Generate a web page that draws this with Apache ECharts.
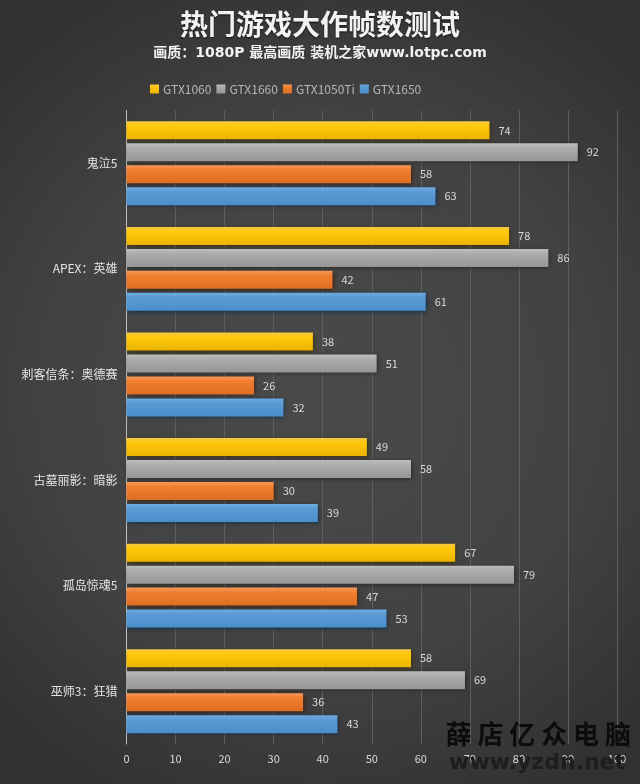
<!DOCTYPE html>
<html>
<head>
<meta charset="utf-8">
<style>html,body{margin:0;padding:0;background:#333}#main{width:640px;height:784px}</style>
<script src="https://cdn.jsdelivr.net/npm/echarts@6/dist/echarts.min.js"></script>
</head>
<body>
<div id="main"></div>
<script>
const games = ['鬼泣5', 'APEX：英雄', '刺客信条：奥德赛', '古墓丽影：暗影', '孤岛惊魂5', '巫师3：狂猎'];
const gtx1060 = [74, 78, 38, 49, 67, 58];
const gtx1660 = [92, 86, 51, 58, 79, 69];
const gtx1050ti = [58, 42, 26, 30, 47, 36];
const gtx1650 = [63, 61, 32, 39, 53, 43];

const font = '"Noto Sans CJK SC", "Noto Sans", sans-serif';

function barSeries(name, data, top, mid, bottom, shadow) {
  return {
    name: name,
    type: 'bar',
    data: data,
    barWidth: 18,
    barGap: '22%',
    itemStyle: {
      color: new echarts.graphic.LinearGradient(0, 0, 0, 1, [
        {offset: 0, color: top},
        {offset: 0.25, color: mid},
        {offset: 1, color: bottom}
      ]),
      shadowColor: shadow,
      shadowBlur: 5,
      shadowOffsetX: 1,
      shadowOffsetY: 1
    },
    label: {
      show: true,
      position: 'right',
      distance: 9,
      color: '#d9d9d9',
      fontSize: 11,
      fontFamily: font
    }
  };
}

let myChart = echarts.init(document.getElementById('main'));
myChart.setOption({
  animation: false,
  backgroundColor: new echarts.graphic.RadialGradient(0.5, 0.5, 0.72, [
    {offset: 0, color: '#4a4a4a'},
    {offset: 0.6, color: '#424242'},
    {offset: 1, color: '#313131'}
  ]),
  title: {
    text: '热门游戏大作帧数测试',
    subtext: '画质：1080P 最高画质 装机之家www.lotpc.com',
    left: 'center',
    top: 5,
    itemGap: 8,
    textStyle: {
      color: '#f2f2f2',
      fontSize: 28,
      fontWeight: 'bold',
      fontFamily: font,
      textShadowColor: '#111',
      textShadowBlur: 2,
      textShadowOffsetY: 1
    },
    subtextStyle: {
      color: '#f2f2f2',
      fontSize: 14,
      fontWeight: 'bold',
      fontFamily: '"DejaVu Sans", "Noto Sans CJK SC", sans-serif'
    }
  },
  legend: {
    top: 78,
    left: 145,
    itemWidth: 9,
    itemHeight: 9,
    itemGap: 5,
    icon: 'rect',
    textStyle: {color: '#b5b5b5', fontSize: 12, padding: [0, 0, 0, -1], fontFamily: font},
    data: ['GTX1060', 'GTX1660', 'GTX1050Ti', 'GTX1650']
  },
  grid: {left: 126.5, right: 23, top: 110.5, bottom: 40},
  xAxis: {
    type: 'value',
    min: 0,
    max: 100,
    interval: 10,
    axisLine: {show: false},
    axisTick: {show: false},
    axisLabel: {color: '#d9d9d9', fontSize: 11, margin: 9, fontFamily: font},
    splitLine: {lineStyle: {color: '#5e5e5e', width: 1}}
  },
  yAxis: {
    type: 'category',
    inverse: true,
    data: games,
    axisLine: {lineStyle: {color: '#bfbfbf', width: 1}},
    axisTick: {show: false},
    axisLabel: {color: '#e6e6e6', fontSize: 12, margin: 9, fontFamily: font}
  },
  series: [
    barSeries('GTX1060', gtx1060, '#f2c94a', '#ffc90a', '#ecb400', '#3a2c00'),
    barSeries('GTX1660', gtx1660, '#bdbdbd', '#adadad', '#969696', '#222222'),
    barSeries('GTX1050Ti', gtx1050ti, '#f59a5c', '#f27f30', '#dd6e24', '#3a1a05'),
    barSeries('GTX1650', gtx1650, '#6fabe0', '#5b9bd5', '#4a8ecc', '#0c2a48')
  ],
  color: ['#ffc000', '#a5a5a5', '#ed7d31', '#5b9bd5'],
  graphic: [
    {
      type: 'text',
      right: 9,
      top: 721,
      z: 100,
      style: {text: '薛 店 亿 众 电 脑', fill: '#0c0c0c', font: 'bold 26px "Noto Sans CJK SC"'}
    },
    {
      type: 'text',
      right: 15,
      top: 752,
      z: 100,
      style: {text: 'www.yzdn.net', fill: '#1e1e1e', font: 'bold 22px "DejaVu Sans"'}
    }
  ]
});
</script>
</body>
</html>
